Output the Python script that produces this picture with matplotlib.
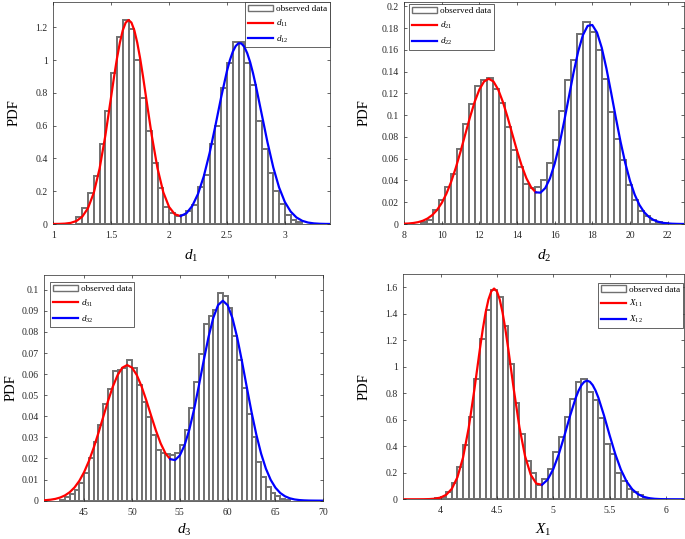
import numpy as np
import matplotlib
matplotlib.use("Agg")
from matplotlib import pyplot as plt
from matplotlib.ticker import FuncFormatter

plt.rcParams["font.family"] = ["Liberation Serif", "DejaVu Serif"]
plt.rcParams["mathtext.fontset"] = "custom"
plt.rcParams["mathtext.rm"] = "Liberation Serif"
plt.rcParams["mathtext.it"] = "Liberation Serif:italic"

# ---- d1 ----
d1_bin_start = 1.20
d1_bin_width = 0.05
d1_hist = [0.045, 0.095, 0.19, 0.29, 0.49, 0.69, 0.92, 1.14, 1.245, 1.19, 1.00, 0.77, 0.57,
           0.37, 0.22, 0.105, 0.065, 0.05, 0.055, 0.08, 0.115, 0.225, 0.30, 0.49, 0.60, 0.83,
           0.98, 1.11, 1.11, 0.98, 0.85, 0.63, 0.46, 0.31, 0.20, 0.12, 0.055, 0.025, 0.01]
d1_x = [1.00, 1.05, 1.10, 1.15, 1.20, 1.25, 1.30, 1.35, 1.40, 1.45, 1.50, 1.525, 1.55, 1.575,
        1.60, 1.625, 1.65, 1.675, 1.70, 1.725, 1.75, 1.775, 1.80, 1.85, 1.90, 1.95, 2.00, 2.05,
        2.10, 2.15, 2.20, 2.25, 2.30, 2.35, 2.40, 2.45, 2.50, 2.525, 2.55, 2.575, 2.60, 2.625,
        2.65, 2.675, 2.70, 2.725, 2.75, 2.80, 2.85, 2.90, 2.95, 3.00, 3.05, 3.10, 3.15, 3.20,
        3.25, 3.30, 3.35, 3.40]
d1_pdf = [0.0002, 0.0007, 0.0023, 0.0068, 0.0184, 0.0446, 0.0972, 0.191, 0.339, 0.5415, 0.779,
          0.8995, 1.011, 1.107, 1.182, 1.229, 1.245, 1.229, 1.182, 1.107, 1.011, 0.8995, 0.779,
          0.5415, 0.340, 0.194, 0.104, 0.059, 0.0486, 0.0657, 0.110, 0.184, 0.292, 0.433, 0.600,
          0.775, 0.934, 1.000, 1.051, 1.086, 1.1035, 1.1016, 1.081, 1.042, 0.988, 0.920, 0.842,
          0.670, 0.498, 0.345, 0.223, 0.134, 0.076, 0.040, 0.0195, 0.0089, 0.0038, 0.0015,
          0.0005, 0.0002]
d1_split = 2.10

# ---- d2 ----
d2_bin_start = 8.89
d2_bin_width = 0.32
d2_hist = [0.0015, 0.004, 0.013, 0.022, 0.034, 0.046, 0.069, 0.092, 0.110, 0.127, 0.132, 0.134,
           0.124, 0.111, 0.089, 0.068, 0.0525, 0.037, 0.033, 0.034, 0.040, 0.056, 0.077, 0.104,
           0.132, 0.151, 0.175, 0.186, 0.176, 0.160, 0.133, 0.103, 0.078, 0.059, 0.036, 0.022,
           0.012, 0.007, 0.004, 0.002, 0.001]
d2_x = [8.00, 8.25, 8.50, 8.75, 9.00, 9.25, 9.50, 9.75, 10.00, 10.25, 10.50, 10.75, 11.00,
        11.25, 11.50, 11.75, 12.00, 12.25, 12.50, 12.75, 13.00, 13.25, 13.50, 13.75, 14.00,
        14.25, 14.50, 14.75, 15.00, 15.25, 15.50, 15.75, 16.00, 16.25, 16.50, 16.75, 17.00,
        17.25, 17.50, 17.75, 18.00, 18.25, 18.50, 18.75, 19.00, 19.25, 19.50, 19.75, 20.00,
        20.25, 20.50, 20.75, 21.00, 21.25, 21.50, 21.75, 22.00, 22.25, 22.50, 22.75, 22.90]
d2_pdf = [0.00025, 0.00049, 0.00094, 0.00171, 0.00299, 0.00506, 0.0082, 0.01281, 0.01923,
          0.0278, 0.03864, 0.05166, 0.06646, 0.08225, 0.09791, 0.11214, 0.12354, 0.13094,
          0.1335, 0.13094, 0.1236, 0.1122, 0.0981, 0.0827, 0.0674, 0.0535, 0.0420, 0.0337,
          0.0291, 0.0288, 0.0330, 0.0419, 0.0554, 0.0730, 0.0939, 0.1164, 0.1388, 0.1586,
          0.1736, 0.18207, 0.18286, 0.17586, 0.16194, 0.14279, 0.12055, 0.09746, 0.07544,
          0.05591, 0.03969, 0.02696, 0.01755, 0.01093, 0.00653, 0.00373, 0.00204, 0.00107,
          0.00054, 0.00026, 0.00012, 0.00005, 0.00003]
d2_split = 15.0

# ---- d3 ----
d3_bin_start = 42.5
d3_bin_width = 0.5
d3_hist = [0.0005, 0.0016, 0.003, 0.005, 0.0085, 0.013, 0.020, 0.028, 0.036, 0.046, 0.053,
           0.0617, 0.062, 0.063, 0.0665, 0.063, 0.055, 0.047, 0.0396, 0.031, 0.024, 0.0225,
           0.022, 0.0215, 0.0226, 0.0263, 0.0334, 0.0441, 0.0563, 0.0695, 0.0837, 0.0875,
           0.0905, 0.0986, 0.097, 0.0915, 0.078, 0.0666, 0.0535, 0.041, 0.030, 0.0184, 0.0112,
           0.0065, 0.0036, 0.002, 0.001, 0.0004]
d3_x = [40.8, 41.0, 41.5, 42.0, 42.5, 43.0, 43.5, 44.0, 44.5, 45.0, 45.5, 46.0, 46.5, 47.0,
        47.5, 48.0, 48.5, 49.0, 49.5, 50.0, 50.5, 51.0, 51.5, 52.0, 52.5, 53.0, 53.5, 54.0,
        54.5, 55.0, 55.5, 56.0, 56.5, 57.0, 57.5, 58.0, 58.5, 59.0, 59.5, 60.0, 60.5, 61.0,
        61.5, 62.0, 62.5, 63.0, 63.5, 64.0, 64.5, 65.0, 65.5, 66.0, 66.5, 67.0, 67.5, 68.0,
        68.5, 69.0, 69.5, 70.0]
d3_pdf = [0.0002, 0.00025, 0.00047, 0.00085, 0.00149, 0.0025, 0.00404, 0.00628, 0.0094,
          0.01355, 0.01879, 0.02507, 0.03218, 0.03976, 0.04728, 0.05408, 0.05954, 0.06308,
          0.0643, 0.06311, 0.0596, 0.05422, 0.04757, 0.04034, 0.0333, 0.02714, 0.02243,
          0.01968, 0.01926, 0.02144, 0.02631, 0.03377, 0.04346, 0.05468, 0.06647, 0.07758,
          0.08672, 0.09274, 0.0948, 0.09268, 0.08659, 0.07733, 0.066, 0.05383, 0.04197,
          0.03127, 0.02227, 0.01516, 0.00986, 0.00613, 0.00364, 0.00207, 0.00112, 0.00058,
          0.00029, 0.00014, 0.00006, 0.00003, 0.00001, 0.0]
d3_split = 54.0

# ---- X1 ----
x1_bin_start = 3.95
x1_bin_width = 0.05
x1_hist = [0.006, 0.02, 0.055, 0.126, 0.244, 0.41, 0.62, 0.905, 1.21, 1.43, 1.58, 1.527, 1.31,
           1.024, 0.73, 0.49, 0.29, 0.20, 0.107, 0.15, 0.231, 0.357, 0.47, 0.62, 0.76, 0.886,
           0.906, 0.81, 0.747, 0.61, 0.42, 0.345, 0.20, 0.136, 0.08, 0.055, 0.03, 0.012, 0.005]
x1_x = [3.68, 3.75, 3.80, 3.85, 3.90, 3.95, 4.00, 4.05, 4.10, 4.15, 4.20, 4.25, 4.30, 4.35,
        4.375, 4.40, 4.425, 4.45, 4.475, 4.50, 4.525, 4.55, 4.575, 4.60, 4.65, 4.70, 4.75,
        4.80, 4.85, 4.90, 4.95, 5.00, 5.05, 5.10, 5.15, 5.20, 5.225, 5.25, 5.275, 5.30, 5.325,
        5.35, 5.375, 5.40, 5.45, 5.50, 5.55, 5.60, 5.65, 5.70, 5.75, 5.80, 5.85, 5.90, 5.95,
        6.00, 6.05, 6.10, 6.18]
x1_pdf = [0.0, 0.00002, 0.00009, 0.00038, 0.0014, 0.0044, 0.0128, 0.0336, 0.0789, 0.1666,
          0.3161, 0.5392, 0.8266, 1.1388, 1.2842, 1.41, 1.5073, 1.5689, 1.59, 1.5689, 1.5073,
          1.4102, 1.2845, 1.1393, 0.8279, 0.5427, 0.3245, 0.1855, 0.1182, 0.1094, 0.1479,
          0.2276, 0.3425, 0.4832, 0.6326, 0.767, 0.8206, 0.8611, 0.8864, 0.895, 0.8864, 0.8611,
          0.8206, 0.767, 0.6325, 0.4828, 0.3411, 0.2232, 0.1351, 0.0758, 0.0393, 0.0189,
          0.0084, 0.0035, 0.0013, 0.0005, 0.0002, 0.0001, 0.0]
x1_split = 4.90

DARK = "#262626"
fmt = FuncFormatter(lambda v, p: "%g" % round(v, 6))


def draw_panel(ax, bin_start, bin_width, hist, x, pdf, split, xlim, ylim, xticks, yticks,
               xlabel, labels, legend_loc, legend_anchor, ylabel_x, xlabel_pad):
    hist = np.array(hist)
    centers = bin_start + bin_width * (np.arange(len(hist)) + 0.5)
    bars = ax.bar(centers, hist, width=bin_width, color="white", edgecolor="#707070",
                  linewidth=1.4, zorder=1)
    x = np.array(x)
    pdf = np.array(pdf)
    left = x <= split + 1e-9
    right = x >= split - 1e-9
    l1, = ax.plot(x[left], pdf[left], color="red", lw=1.6, zorder=3)
    l2, = ax.plot(x[right], pdf[right], color="blue", lw=1.6, zorder=3)

    ax.set_xlim(*xlim)
    ax.set_ylim(*ylim)
    ax.set_xticks(xticks)
    ax.set_yticks(yticks)
    ax.xaxis.set_major_formatter(fmt)
    ax.yaxis.set_major_formatter(fmt)
    ax.tick_params(direction="in", top=True, right=True, length=2.5, width=0.5,
                   colors=DARK, labelsize=7.0)
    ax.tick_params(axis="y", pad=4)
    ax.tick_params(axis="x", pad=5)
    for s in ax.spines.values():
        s.set_linewidth(0.5)
        s.set_color(DARK)
    ax.set_ylabel("PDF", fontsize=10.5, color="black")
    ax.yaxis.set_label_coords(ylabel_x, 0.5)
    ax.set_xlabel(xlabel, fontsize=11, labelpad=xlabel_pad, color="black")

    leg = ax.legend([bars, l1, l2], ["observed data"] + labels, loc=legend_loc,
                    bbox_to_anchor=legend_anchor, borderaxespad=0,
                    fontsize=6.6, handlelength=2.75, handletextpad=0.3, labelspacing=0.5,
                    borderpad=0.3, fancybox=False, framealpha=1, edgecolor=DARK)
    leg.get_frame().set_linewidth(0.5)
    leg.legend_handles[0].set_linewidth(1.0)


fig = plt.figure(figsize=(6.85, 5.39), dpi=100)

ax1 = fig.add_axes([0.0778, 0.5844, 0.404, 0.4119])
draw_panel(ax1, d1_bin_start, d1_bin_width, d1_hist, d1_x, d1_pdf, d1_split,
           (1.0, 3.39), (0, 1.355), [1, 1.5, 2, 2.5, 3], np.arange(0, 1.21, 0.2),
           r"$d_1$", [r"$d_{11}$", r"$d_{12}$"], "upper right", (1.0, 1.0), -0.117, 6)

ax2 = fig.add_axes([0.5898, 0.5844, 0.4088, 0.4119])
draw_panel(ax2, d2_bin_start, d2_bin_width, d2_hist, d2_x, d2_pdf, d2_split,
           (8, 22.87), (0, 0.204), np.arange(8, 23, 2), np.arange(0, 0.201, 0.02),
           r"$d_2$", [r"$d_{21}$", r"$d_{22}$"], "upper left", (0.018, 0.99), -0.121, 6)

ax3 = fig.add_axes([0.0647, 0.0711, 0.4073, 0.4187])
draw_panel(ax3, d3_bin_start, d3_bin_width, d3_hist, d3_x, d3_pdf, d3_split,
           (40.84, 70), (0, 0.107), [45, 50, 55, 60, 65, 70], np.arange(0, 0.1001, 0.01),
           r"$d_3$", [r"$d_{31}$", r"$d_{32}$"], "upper left", (0.02, 0.97), -0.094, 3.5)

ax4 = fig.add_axes([0.5888, 0.0737, 0.4098, 0.418])
draw_panel(ax4, x1_bin_start, x1_bin_width, x1_hist, x1_x, x1_pdf, x1_split,
           (3.67, 6.16), (0, 1.7), [4, 4.5, 5, 5.5, 6], np.arange(0, 1.61, 0.2),
           r"$X_1$", [r"$X_{11}$", r"$X_{12}$"], "upper right", (0.996, 0.962), -0.118, 4.5)

fig.savefig("out.png", dpi=100)
